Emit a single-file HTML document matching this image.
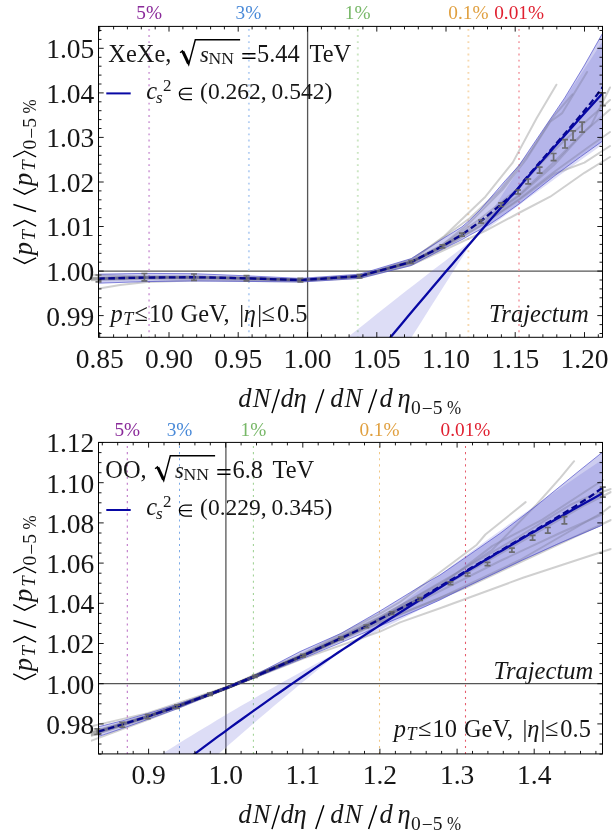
<!DOCTYPE html>
<html><head><meta charset="utf-8"><title>chart</title>
<style>html,body{margin:0;padding:0;background:#fff;}svg{display:block;will-change:transform;}text{font-family:"Liberation Serif",serif;fill:#161616;}</style></head><body>
<svg width="615" height="838" viewBox="0 0 615 838">
<rect width="615" height="838" fill="#fff"/>
<defs><clipPath id="ct"><rect x="98.5" y="26.4" width="504.0" height="310.9"/></clipPath>
<clipPath id="ctw"><rect x="90.8" y="26.4" width="520.7" height="310.9"/></clipPath>
<clipPath id="cbw"><rect x="90.8" y="442.4" width="520.7" height="311.5"/></clipPath>
<clipPath id="cb"><rect x="98.5" y="442.4" width="504.0" height="311.5"/></clipPath></defs>
<g clip-path="url(#ct)">
<line x1="98.5" y1="271.1" x2="602.5" y2="271.1" stroke="#565656" stroke-width="1.3"/>
<line x1="307.6" y1="26.4" x2="307.6" y2="337.3" stroke="#565656" stroke-width="1.3"/>
<line x1="149.1" y1="338.3" x2="149.1" y2="26.4" stroke="#cc96d4" stroke-opacity="0.8" stroke-width="1.9" stroke-dasharray="1.9,4.25"/>
<line x1="248.9" y1="338.3" x2="248.9" y2="26.4" stroke="#a6c6f0" stroke-opacity="0.8" stroke-width="1.9" stroke-dasharray="1.9,4.25"/>
<line x1="357.8" y1="338.3" x2="357.8" y2="26.4" stroke="#bfe0b4" stroke-opacity="0.8" stroke-width="1.9" stroke-dasharray="1.9,4.25"/>
<line x1="468.4" y1="338.3" x2="468.4" y2="26.4" stroke="#f5d09c" stroke-opacity="0.8" stroke-width="1.9" stroke-dasharray="1.9,4.25"/>
<line x1="519.0" y1="338.3" x2="519.0" y2="26.4" stroke="#f29aa2" stroke-opacity="0.8" stroke-width="1.9" stroke-dasharray="1.9,4.25"/>
<polygon points="96.5,554.1 102.8,548.3 109.2,542.4 115.5,536.6 121.9,530.8 128.2,525.0 134.6,519.2 140.9,513.5 147.2,507.7 153.6,502.0 160.0,496.3 166.3,490.7 172.7,485.0 179.0,479.4 185.4,473.8 191.7,468.3 198.1,462.7 204.4,457.2 210.8,451.7 217.1,446.2 223.5,440.7 229.8,435.2 236.2,429.8 242.5,424.4 248.9,419.0 255.2,413.6 261.6,408.2 267.9,402.9 274.2,397.6 280.6,392.3 287.0,387.0 293.3,381.7 299.7,376.5 306.0,371.2 312.4,366.0 318.7,360.8 325.1,355.7 331.4,350.5 337.8,345.3 344.1,340.2 350.5,335.1 356.8,330.0 363.2,324.9 369.5,319.9 375.9,314.8 382.2,309.8 388.6,304.8 394.9,299.8 401.2,294.8 407.6,289.8 413.9,284.9 420.3,280.0 426.7,275.0 433.0,270.1 439.4,265.3 445.7,260.4 452.1,255.5 458.4,250.7 464.8,245.8 471.1,241.0 477.5,233.4 483.8,223.5 490.2,213.6 496.5,203.7 502.9,193.8 509.2,184.0 515.6,174.2 521.9,164.4 528.2,154.6 534.6,144.8 541.0,135.1 547.3,125.4 553.7,115.6 560.0,105.9 566.4,96.3 572.7,86.6 579.1,77.0 585.4,67.3 591.8,57.7 598.1,48.1 604.5,38.5 604.5,143.1 598.1,147.7 591.8,152.2 585.4,156.8 579.1,161.3 572.7,165.9 566.4,170.5 560.0,175.1 553.7,179.7 547.3,184.4 541.0,189.0 534.6,193.7 528.2,198.3 521.9,203.0 515.6,207.7 509.2,212.4 502.9,217.2 496.5,221.9 490.2,226.7 483.8,231.4 477.5,236.2 471.1,243.3 464.8,253.3 458.4,263.2 452.1,273.2 445.7,283.2 439.4,293.2 433.0,303.3 426.7,313.3 420.3,323.4 413.9,333.5 407.6,343.7 401.2,353.8 394.9,364.0 388.6,374.1 382.2,384.3 375.9,394.6 369.5,404.8 363.2,415.1 356.8,425.3 350.5,435.6 344.1,446.0 337.8,456.3 331.4,466.7 325.1,477.1 318.7,487.5 312.4,497.9 306.0,508.4 299.7,518.8 293.3,529.3 287.0,539.9 280.6,550.4 274.2,561.0 267.9,571.6 261.6,582.2 255.2,592.8 248.9,603.5 242.5,614.1 236.2,624.8 229.8,635.6 223.5,646.3 217.1,657.1 210.8,667.9 204.4,678.7 198.1,689.6 191.7,700.4 185.4,711.3 179.0,722.3 172.7,733.2 166.3,744.2 160.0,755.2 153.6,766.2 147.2,777.2 140.9,788.3 134.6,799.4 128.2,810.6 121.9,821.7 115.5,832.9 109.2,844.1 102.8,855.3 96.5,866.6" fill="rgb(100,100,215)" fill-opacity="0.22"/>
</g><g clip-path="url(#ctw)">
<polyline points="91.5,278.2 98.2,278.0 144.5,276.7 194.0,276.4 246.5,277.6 300.4,279.6 359.5,275.6 411.2,260.5 444.4,236.0 485.4,196.7 512.7,162.6 536.6,118.2 556.4,84.7" fill="none" stroke="rgb(150,150,150)" stroke-opacity="0.45" stroke-width="2" stroke-linejoin="round" stroke-linecap="round"/>
<polyline points="91.5,279.1 98.2,279.0 144.5,278.2 194.0,277.9 246.5,279.0 300.4,280.6 359.5,276.7 411.2,262.8 442.0,245.0 468.3,224.0 502.4,189.9 526.3,159.2 550.2,121.6 562.2,113.1 587.1,72.1" fill="none" stroke="rgb(150,150,150)" stroke-opacity="0.45" stroke-width="2" stroke-linejoin="round" stroke-linecap="round"/>
<polyline points="99.2,288.4 120.0,285.0 147.0,282.1 200.0,280.3 250.0,281.0 300.0,281.5 360.0,278.0 411.0,265.0 442.0,251.0 485.4,230.9 518.8,213.0 550.2,196.7 584.4,172.8 610.0,157.0" fill="none" stroke="rgb(150,150,150)" stroke-opacity="0.45" stroke-width="2" stroke-linejoin="round" stroke-linecap="round"/>
<polyline points="91.5,274.8 98.2,275.0 144.5,276.4 194.0,276.6 246.5,277.8 300.4,279.7 359.5,275.7 411.2,262.0 442.0,247.0 480.0,224.0 519.0,196.0 554.0,165.0 584.4,131.8 610.0,109.6" fill="none" stroke="rgb(150,150,150)" stroke-opacity="0.45" stroke-width="2" stroke-linejoin="round" stroke-linecap="round"/>
<polyline points="91.5,279.7 98.2,279.5 144.5,277.8 194.0,277.7 246.5,278.7 300.4,280.3 359.5,276.4 411.2,259.5 440.0,240.0 470.0,218.0 500.0,190.0 530.0,152.0 552.0,118.2 572.4,94.3" fill="none" stroke="rgb(150,150,150)" stroke-opacity="0.45" stroke-width="2" stroke-linejoin="round" stroke-linecap="round"/>
<polyline points="91.5,277.7 98.2,277.6 144.5,277.2 194.0,277.2 246.5,279.2 300.4,280.1 359.5,276.0 411.2,263.0 442.0,248.0 480.0,226.0 519.0,200.0 554.0,174.0 584.4,162.6 610.0,146.0" fill="none" stroke="rgb(150,150,150)" stroke-opacity="0.45" stroke-width="2" stroke-linejoin="round" stroke-linecap="round"/>
<polyline points="91.5,278.7 98.2,278.6 144.5,277.6 194.0,277.5 246.5,278.3 300.4,280.1 359.5,276.4 411.2,262.5 442.0,246.0 480.0,222.0 519.0,195.0 554.0,162.0 591.2,125.0 610.0,87.5" fill="none" stroke="rgb(150,150,150)" stroke-opacity="0.45" stroke-width="2" stroke-linejoin="round" stroke-linecap="round"/>
<polyline points="91.5,280.3 98.2,280.1 144.5,278.9 194.0,278.4 246.5,279.4 300.4,280.9 359.5,277.1 411.2,264.0 442.0,249.0 480.0,226.5 519.0,199.0 554.0,172.0 590.0,146.0 610.0,132.0" fill="none" stroke="rgb(150,150,150)" stroke-opacity="0.45" stroke-width="2" stroke-linejoin="round" stroke-linecap="round"/>
<polyline points="91.5,278.4 98.2,278.2 144.5,277.1 194.0,276.8 246.5,278.0 300.4,279.9 359.5,276.0 411.2,261.0 442.0,245.0 480.0,219.0 519.0,188.0 540.0,164.0 565.0,140.0 610.0,100.0" fill="none" stroke="rgb(150,150,150)" stroke-opacity="0.45" stroke-width="2" stroke-linejoin="round" stroke-linecap="round"/>
</g><g clip-path="url(#ct)">
<polyline points="98.2,278.6 144.5,277.6 194.0,277.2 246.5,278.3 300.4,280.1 359.5,276.2 411.2,262.0 442.4,246.3 462.0,234.6" fill="none" stroke="rgb(50,50,55)" stroke-opacity="0.35" stroke-width="2.6" stroke-linejoin="round"/>
<polyline points="246.5,278.3 300.4,280.1 359.5,276.2 411.2,262.0 430.0,252.5" fill="none" stroke="rgb(50,50,55)" stroke-opacity="0.45" stroke-width="2.4" stroke-linejoin="round"/>
<polygon points="98.2,274.2 144.5,273.4 194.0,273.7 246.5,275.8 300.4,278.4 359.5,274.2 411.2,258.6 440.0,240.5 462.0,226.8 469.3,220.5 480.0,210.0 505.0,180.9 519.0,165.5 529.4,150.0 547.0,124.0 564.6,98.0 584.0,66.0 603.2,32.2 603.2,140.6 580.5,156.8 564.6,168.4 553.7,176.5 540.0,187.3 519.0,204.0 500.0,217.4 488.5,225.0 469.3,235.4 462.0,239.6 440.0,250.4 411.2,265.5 359.5,278.4 300.4,282.0 246.5,281.4 194.0,281.0 144.5,281.6 98.2,283.2" fill="rgb(88,88,205)" fill-opacity="0.30" stroke="rgb(70,70,200)" stroke-opacity="0.85" stroke-width="0.75" stroke-linejoin="round"/>
<polyline points="98.2,278.6 144.5,277.6 194.0,277.2 246.5,278.3 300.4,280.1 359.5,276.2 411.2,262.0 442.4,246.3 462.0,234.6 481.0,221.0 501.0,204.3 516.0,191.8 524.0,180.5 540.0,162.1 560.0,139.2 579.0,117.2 592.0,101.5 603.0,86.8" fill="none" stroke="#06068c" stroke-width="2.3" stroke-dasharray="6.6,3.5"/>
<polyline points="96.5,713.4 102.8,704.7 109.2,696.1 115.5,687.4 121.9,678.8 128.2,670.3 134.6,661.7 140.9,653.2 147.2,644.7 153.6,636.2 160.0,627.8 166.3,619.4 172.7,611.0 179.0,602.6 185.4,594.3 191.7,586.0 198.1,577.7 204.4,569.4 210.8,561.2 217.1,553.0 223.5,544.8 229.8,536.6 236.2,528.5 242.5,520.3 248.9,512.2 255.2,504.2 261.6,496.1 267.9,488.1 274.2,480.1 280.6,472.1 287.0,464.1 293.3,456.2 299.7,448.3 306.0,440.4 312.4,432.5 318.7,424.6 325.1,416.8 331.4,409.0 337.8,401.2 344.1,393.4 350.5,385.7 356.8,377.9 363.2,370.2 369.5,362.5 375.9,354.9 382.2,347.2 388.6,339.6 394.9,332.0 401.2,324.4 407.6,316.8 413.9,309.3 420.3,301.7 426.7,294.2 433.0,286.7 439.4,279.3 445.7,271.8 452.1,264.4 458.4,257.0 464.8,249.6 471.1,242.2 477.5,234.8 483.8,227.5 490.2,220.1 496.5,212.8 502.9,205.5 509.2,198.3 515.6,191.0 521.9,183.8 528.2,176.5 534.6,169.3 541.0,162.1 547.3,155.0 553.7,147.8 560.0,140.7 566.4,133.5 572.7,126.4 579.1,119.3 585.4,112.3 591.8,105.2 598.1,98.2 604.5,91.1" fill="none" stroke="#0808a4" stroke-width="2.3"/>
</g><g clip-path="url(#ctw)">
<path d="M98.5 275.0 V281.8 M95.5 275.0 H101.5 M95.5 281.8 H101.5" stroke="#666" stroke-width="1.7" stroke-opacity="0.92" fill="none"/>
<path d="M144.4 273.5 V280.9 M141.4 273.5 H147.4 M141.4 280.9 H147.4" stroke="#666" stroke-width="1.7" stroke-opacity="0.92" fill="none"/>
<path d="M194.0 274.0 V280.4 M191.0 274.0 H197.0 M191.0 280.4 H197.0" stroke="#666" stroke-width="1.7" stroke-opacity="0.92" fill="none"/>
<path d="M246.5 275.7 V280.9 M243.5 275.7 H249.5 M243.5 280.9 H249.5" stroke="#666" stroke-width="1.7" stroke-opacity="0.92" fill="none"/>
<path d="M300.4 278.3 V281.9 M297.4 278.3 H303.4 M297.4 281.9 H303.4" stroke="#666" stroke-width="1.7" stroke-opacity="0.92" fill="none"/>
<path d="M359.5 274.6 V277.8 M356.5 274.6 H362.5 M356.5 277.8 H362.5" stroke="#666" stroke-width="1.7" stroke-opacity="0.92" fill="none"/>
<path d="M411.2 260.6 V263.4 M408.2 260.6 H414.2 M408.2 263.4 H414.2" stroke="#666" stroke-width="1.7" stroke-opacity="0.92" fill="none"/>
<path d="M442.4 244.8 V247.8 M439.4 244.8 H445.4 M439.4 247.8 H445.4" stroke="#666" stroke-width="1.7" stroke-opacity="0.92" fill="none"/>
<path d="M462.0 233.1 V236.1 M459.0 233.1 H465.0 M459.0 236.1 H465.0" stroke="#666" stroke-width="1.7" stroke-opacity="0.92" fill="none"/>
<path d="M481.0 220.0 V223.2 M478.0 220.0 H484.0 M478.0 223.2 H484.0" stroke="#666" stroke-width="1.7" stroke-opacity="0.92" fill="none"/>
<path d="M501.1 202.9 V206.5 M498.1 202.9 H504.1 M498.1 206.5 H504.1" stroke="#666" stroke-width="1.7" stroke-opacity="0.92" fill="none"/>
<path d="M518.0 190.0 V194.0 M515.0 190.0 H521.0 M515.0 194.0 H521.0" stroke="#666" stroke-width="1.7" stroke-opacity="0.92" fill="none"/>
<path d="M528.2 179.0 V183.8 M525.2 179.0 H531.2 M525.2 183.8 H531.2" stroke="#666" stroke-width="1.7" stroke-opacity="0.92" fill="none"/>
<path d="M539.6 167.2 V173.2 M536.6 167.2 H542.6 M536.6 173.2 H542.6" stroke="#666" stroke-width="1.7" stroke-opacity="0.92" fill="none"/>
<path d="M553.6 153.5 V160.7 M550.6 153.5 H556.6 M550.6 160.7 H556.6" stroke="#666" stroke-width="1.7" stroke-opacity="0.92" fill="none"/>
<path d="M565.0 139.6 V148.0 M562.0 139.6 H568.0 M562.0 148.0 H568.0" stroke="#666" stroke-width="1.7" stroke-opacity="0.92" fill="none"/>
<path d="M573.0 130.9 V140.1 M570.0 130.9 H576.0 M570.0 140.1 H576.0" stroke="#666" stroke-width="1.7" stroke-opacity="0.92" fill="none"/>
<path d="M582.1 122.1 V132.1 M579.1 122.1 H585.1 M579.1 132.1 H585.1" stroke="#666" stroke-width="1.7" stroke-opacity="0.92" fill="none"/>
<path d="M602.8 92.8 V105.6 M599.8 92.8 H605.8 M599.8 105.6 H605.8" stroke="#666" stroke-width="1.7" stroke-opacity="0.92" fill="none"/>
</g>
<rect x="98.5" y="26.4" width="504.0" height="310.9" fill="none" stroke="#000" stroke-width="1.0"/>
<path d="M99.7 337.3 v-5.2 M99.7 26.4 v5.2 M113.6 337.3 v-3.0 M113.6 26.4 v3.0 M127.4 337.3 v-3.0 M127.4 26.4 v3.0 M141.3 337.3 v-3.0 M141.3 26.4 v3.0 M155.2 337.3 v-3.0 M155.2 26.4 v3.0 M169.0 337.3 v-5.2 M169.0 26.4 v5.2 M182.9 337.3 v-3.0 M182.9 26.4 v3.0 M196.7 337.3 v-3.0 M196.7 26.4 v3.0 M210.6 337.3 v-3.0 M210.6 26.4 v3.0 M224.4 337.3 v-3.0 M224.4 26.4 v3.0 M238.2 337.3 v-5.2 M238.2 26.4 v5.2 M252.1 337.3 v-3.0 M252.1 26.4 v3.0 M265.9 337.3 v-3.0 M265.9 26.4 v3.0 M279.8 337.3 v-3.0 M279.8 26.4 v3.0 M293.6 337.3 v-3.0 M293.6 26.4 v3.0 M307.5 337.3 v-5.2 M307.5 26.4 v5.2 M321.4 337.3 v-3.0 M321.4 26.4 v3.0 M335.2 337.3 v-3.0 M335.2 26.4 v3.0 M349.1 337.3 v-3.0 M349.1 26.4 v3.0 M362.9 337.3 v-3.0 M362.9 26.4 v3.0 M376.8 337.3 v-5.2 M376.8 26.4 v5.2 M390.6 337.3 v-3.0 M390.6 26.4 v3.0 M404.5 337.3 v-3.0 M404.5 26.4 v3.0 M418.3 337.3 v-3.0 M418.3 26.4 v3.0 M432.2 337.3 v-3.0 M432.2 26.4 v3.0 M446.0 337.3 v-5.2 M446.0 26.4 v5.2 M459.9 337.3 v-3.0 M459.9 26.4 v3.0 M473.7 337.3 v-3.0 M473.7 26.4 v3.0 M487.5 337.3 v-3.0 M487.5 26.4 v3.0 M501.4 337.3 v-3.0 M501.4 26.4 v3.0 M515.2 337.3 v-5.2 M515.2 26.4 v5.2 M529.1 337.3 v-3.0 M529.1 26.4 v3.0 M542.9 337.3 v-3.0 M542.9 26.4 v3.0 M556.8 337.3 v-3.0 M556.8 26.4 v3.0 M570.6 337.3 v-3.0 M570.6 26.4 v3.0 M584.5 337.3 v-5.2 M584.5 26.4 v5.2 M598.3 337.3 v-3.0 M598.3 26.4 v3.0 M98.5 333.5 h3.0 M602.5 333.5 h-3.0 M98.5 324.6 h3.0 M602.5 324.6 h-3.0 M98.5 315.6 h5.2 M602.5 315.6 h-5.2 M98.5 306.7 h3.0 M602.5 306.7 h-3.0 M98.5 297.8 h3.0 M602.5 297.8 h-3.0 M98.5 288.9 h3.0 M602.5 288.9 h-3.0 M98.5 280.0 h3.0 M602.5 280.0 h-3.0 M98.5 271.1 h5.2 M602.5 271.1 h-5.2 M98.5 262.2 h3.0 M602.5 262.2 h-3.0 M98.5 253.3 h3.0 M602.5 253.3 h-3.0 M98.5 244.4 h3.0 M602.5 244.4 h-3.0 M98.5 235.5 h3.0 M602.5 235.5 h-3.0 M98.5 226.5 h5.2 M602.5 226.5 h-5.2 M98.5 217.6 h3.0 M602.5 217.6 h-3.0 M98.5 208.7 h3.0 M602.5 208.7 h-3.0 M98.5 199.8 h3.0 M602.5 199.8 h-3.0 M98.5 190.9 h3.0 M602.5 190.9 h-3.0 M98.5 182.0 h5.2 M602.5 182.0 h-5.2 M98.5 173.1 h3.0 M602.5 173.1 h-3.0 M98.5 164.2 h3.0 M602.5 164.2 h-3.0 M98.5 155.3 h3.0 M602.5 155.3 h-3.0 M98.5 146.4 h3.0 M602.5 146.4 h-3.0 M98.5 137.4 h5.2 M602.5 137.4 h-5.2 M98.5 128.5 h3.0 M602.5 128.5 h-3.0 M98.5 119.6 h3.0 M602.5 119.6 h-3.0 M98.5 110.7 h3.0 M602.5 110.7 h-3.0 M98.5 101.8 h3.0 M602.5 101.8 h-3.0 M98.5 92.9 h5.2 M602.5 92.9 h-5.2 M98.5 84.0 h3.0 M602.5 84.0 h-3.0 M98.5 75.1 h3.0 M602.5 75.1 h-3.0 M98.5 66.2 h3.0 M602.5 66.2 h-3.0 M98.5 57.3 h3.0 M602.5 57.3 h-3.0 M98.5 48.3 h5.2 M602.5 48.3 h-5.2 M98.5 39.4 h3.0 M602.5 39.4 h-3.0 M98.5 30.5 h3.0 M602.5 30.5 h-3.0" stroke="#000" stroke-width="0.9" fill="none"/>
<text x="94.3" y="325.5" font-size="27.5" text-anchor="end">0.99</text>
<text x="94.3" y="280.9" font-size="27.5" text-anchor="end">1.00</text>
<text x="94.3" y="236.3" font-size="27.5" text-anchor="end">1.01</text>
<text x="94.3" y="191.8" font-size="27.5" text-anchor="end">1.02</text>
<text x="94.3" y="147.2" font-size="27.5" text-anchor="end">1.03</text>
<text x="94.3" y="102.7" font-size="27.5" text-anchor="end">1.04</text>
<text x="94.3" y="58.1" font-size="27.5" text-anchor="end">1.05</text>
<text x="99.7" y="367.6" font-size="27.5" text-anchor="middle">0.85</text>
<text x="169.0" y="367.6" font-size="27.5" text-anchor="middle">0.90</text>
<text x="238.2" y="367.6" font-size="27.5" text-anchor="middle">0.95</text>
<text x="307.5" y="367.6" font-size="27.5" text-anchor="middle">1.00</text>
<text x="376.8" y="367.6" font-size="27.5" text-anchor="middle">1.05</text>
<text x="446.0" y="367.6" font-size="27.5" text-anchor="middle">1.10</text>
<text x="515.2" y="367.6" font-size="27.5" text-anchor="middle">1.15</text>
<text x="584.5" y="367.6" font-size="27.5" text-anchor="middle">1.20</text>
<text x="149.1" y="19.4" font-size="19.3" text-anchor="middle" style="fill:#8a2a9a">5%</text>
<text x="248.4" y="19.4" font-size="19.3" text-anchor="middle" style="fill:#4a8ad8">3%</text>
<text x="357.6" y="19.4" font-size="19.3" text-anchor="middle" style="fill:#78b868">1%</text>
<text x="468.4" y="19.4" font-size="19.3" text-anchor="middle" style="fill:#e0a040">0.1%</text>
<text x="519.1" y="19.4" font-size="19.3" text-anchor="middle" style="fill:#e02030">0.01%</text>
<g clip-path="url(#cb)">
<line x1="98.5" y1="683.7" x2="602.5" y2="683.7" stroke="#565656" stroke-width="1.3"/>
<line x1="225.9" y1="442.4" x2="225.9" y2="753.9" stroke="#565656" stroke-width="1.3"/>
<line x1="127.3" y1="754.1" x2="127.3" y2="442.4" stroke="#b05abd" stroke-opacity="0.88" stroke-width="1.05" stroke-dasharray="2.1,4.02"/>
<line x1="179.5" y1="754.1" x2="179.5" y2="442.4" stroke="#6a9ee2" stroke-opacity="0.88" stroke-width="1.05" stroke-dasharray="2.1,4.02"/>
<line x1="253.4" y1="754.1" x2="253.4" y2="442.4" stroke="#90ca82" stroke-opacity="0.88" stroke-width="1.05" stroke-dasharray="2.1,4.02"/>
<line x1="379.5" y1="754.1" x2="379.5" y2="442.4" stroke="#efbf74" stroke-opacity="0.88" stroke-width="1.05" stroke-dasharray="2.1,4.02"/>
<line x1="465.5" y1="754.1" x2="465.5" y2="442.4" stroke="#e24656" stroke-opacity="0.88" stroke-width="1.05" stroke-dasharray="2.1,4.02"/>
<polygon points="96.5,797.0 102.8,792.7 109.2,788.4 115.5,784.1 121.9,779.9 128.2,775.7 134.6,771.5 140.9,767.4 147.2,763.3 153.6,759.3 160.0,755.2 166.3,751.2 172.7,747.2 179.0,743.3 185.4,739.3 191.7,735.4 198.1,731.5 204.4,727.7 210.8,723.9 217.1,720.1 223.5,716.3 229.8,712.5 236.2,708.8 242.5,705.1 248.9,701.4 255.2,697.7 261.6,694.1 267.9,690.5 274.2,686.9 280.6,683.3 287.0,679.8 293.3,676.2 299.7,672.7 306.0,669.2 312.4,665.8 318.7,662.3 325.1,658.9 331.4,655.5 337.8,652.1 344.1,648.6 350.5,643.5 356.8,638.5 363.2,633.5 369.5,628.5 375.9,623.5 382.2,618.6 388.6,613.7 394.9,608.8 401.2,603.9 407.6,599.0 413.9,594.2 420.3,589.4 426.7,584.6 433.0,579.8 439.4,575.1 445.7,570.4 452.1,565.6 458.4,561.0 464.8,556.3 471.1,551.6 477.5,547.0 483.8,542.4 490.2,537.8 496.5,533.2 502.9,528.7 509.2,524.1 515.6,519.6 521.9,515.1 528.2,510.6 534.6,506.1 541.0,501.7 547.3,497.3 553.7,492.8 560.0,488.4 566.4,484.1 572.7,479.7 579.1,475.3 585.4,471.0 591.8,466.7 598.1,462.4 604.5,458.1 604.5,524.2 598.1,527.0 591.8,529.7 585.4,532.5 579.1,535.3 572.7,538.1 566.4,540.9 560.0,543.8 553.7,546.6 547.3,549.5 541.0,552.4 534.6,555.3 528.2,558.2 521.9,561.1 515.6,564.0 509.2,566.9 502.9,569.9 496.5,572.9 490.2,575.8 483.8,578.8 477.5,581.8 471.1,584.9 464.8,587.9 458.4,591.0 452.1,594.0 445.7,597.1 439.4,600.2 433.0,603.3 426.7,606.5 420.3,609.6 413.9,612.8 407.6,616.0 401.2,619.2 394.9,622.4 388.6,625.6 382.2,628.9 375.9,632.1 369.5,635.4 363.2,638.7 356.8,642.0 350.5,645.4 344.1,648.7 337.8,653.6 331.4,658.7 325.1,663.9 318.7,669.0 312.4,674.2 306.0,679.4 299.7,684.6 293.3,689.9 287.0,695.2 280.6,700.5 274.2,705.8 267.9,711.2 261.6,716.6 255.2,722.0 248.9,727.4 242.5,732.9 236.2,738.4 229.8,743.9 223.5,749.5 217.1,755.1 210.8,760.7 204.4,766.4 198.1,772.1 191.7,777.8 185.4,783.5 179.0,789.3 172.7,795.2 166.3,801.0 160.0,806.9 153.6,812.8 147.2,818.8 140.9,824.8 134.6,830.8 128.2,836.9 121.9,843.0 115.5,849.1 109.2,855.3 102.8,861.5 96.5,867.8" fill="rgb(100,100,215)" fill-opacity="0.22"/>
</g><g clip-path="url(#cbw)">
<polyline points="91.5,726.2 98.2,724.6 147.6,713.1 226.0,687.3 303.0,653.6 380.0,613.6 400.0,602.0 444.4,569.0 476.8,544.7 485.4,534.5 525.6,502.1" fill="none" stroke="rgb(150,150,150)" stroke-opacity="0.45" stroke-width="2" stroke-linejoin="round" stroke-linecap="round"/>
<polyline points="91.5,732.0 98.2,730.0 147.6,715.5 226.0,687.7 303.0,654.6 380.0,616.6 440.0,584.0 492.0,550.0 536.6,504.5 560.5,477.6 574.1,461.2" fill="none" stroke="rgb(150,150,150)" stroke-opacity="0.45" stroke-width="2" stroke-linejoin="round" stroke-linecap="round"/>
<polyline points="91.5,740.6 98.2,738.1 147.6,719.9 226.0,689.1 303.0,658.6 380.0,631.6 400.0,622.4 440.0,608.2 523.0,577.8 603.0,551.5 611.0,549.0" fill="none" stroke="rgb(150,150,150)" stroke-opacity="0.45" stroke-width="2" stroke-linejoin="round" stroke-linecap="round"/>
<polyline points="91.5,735.7 98.2,733.6 147.6,717.9 226.0,688.6 303.0,657.1 380.0,622.6 440.0,598.0 520.0,560.0 603.0,512.0 610.0,506.6" fill="none" stroke="rgb(150,150,150)" stroke-opacity="0.45" stroke-width="2" stroke-linejoin="round" stroke-linecap="round"/>
<polyline points="91.5,732.8 98.2,730.8 147.6,716.0 226.0,687.9 303.0,655.1 380.0,618.1 440.0,586.0 492.5,545.9 542.0,519.8 603.0,480.0" fill="none" stroke="rgb(150,150,150)" stroke-opacity="0.45" stroke-width="2" stroke-linejoin="round" stroke-linecap="round"/>
<polyline points="91.5,734.5 98.2,732.4 147.6,717.1 226.0,688.3 303.0,656.2 380.0,620.8 440.0,591.0 500.0,561.0 560.0,533.0 603.0,514.0" fill="none" stroke="rgb(150,150,150)" stroke-opacity="0.45" stroke-width="2" stroke-linejoin="round" stroke-linecap="round"/>
<polyline points="91.5,733.6 98.2,731.6 147.6,716.5 226.0,688.1 303.0,655.6 380.0,619.6 465.0,574.0 540.0,531.0 585.0,505.0 611.0,492.0" fill="none" stroke="rgb(150,150,150)" stroke-opacity="0.45" stroke-width="2" stroke-linejoin="round" stroke-linecap="round"/>
<polyline points="91.5,732.4 98.2,730.4 147.6,715.7 226.0,687.8 303.0,654.8 380.0,617.4 465.0,568.0 520.0,536.0 570.0,505.0 590.0,496.0 611.0,489.0" fill="none" stroke="rgb(150,150,150)" stroke-opacity="0.45" stroke-width="2" stroke-linejoin="round" stroke-linecap="round"/>
<polyline points="91.5,735.3 98.2,733.2 147.6,717.6 226.0,688.5 303.0,656.7 380.0,622.0 465.0,588.0 540.0,553.0 611.0,520.0" fill="none" stroke="rgb(150,150,150)" stroke-opacity="0.45" stroke-width="2" stroke-linejoin="round" stroke-linecap="round"/>
</g><g clip-path="url(#cb)">
<polyline points="98.2,731.6 122.3,724.5 147.6,716.5 177.0,706.6 210.0,694.2 226.0,688.1 254.8,676.4 303.0,655.6 341.0,638.2 366.3,626.3 391.7,613.1 420.0,598.5" fill="none" stroke="rgb(50,50,55)" stroke-opacity="0.40" stroke-width="2.8" stroke-linejoin="round"/>
<polyline points="147.6,716.5 177.0,706.6 210.0,694.2 226.0,688.1 254.8,676.4 303.0,655.6 341.0,638.2" fill="none" stroke="rgb(50,50,55)" stroke-opacity="0.60" stroke-width="2.6" stroke-linejoin="round"/>
<polyline points="177.0,706.6 210.0,694.2 226.0,688.1 254.8,676.4 303.0,655.6" fill="none" stroke="rgb(50,50,55)" stroke-opacity="0.70" stroke-width="3.0" stroke-linejoin="round"/>
<polyline points="200.0,697.9 226.0,688.1 254.8,676.4 285.0,663.4" fill="none" stroke="rgb(50,50,55)" stroke-opacity="0.60" stroke-width="3.2" stroke-linejoin="round"/>
<polygon points="98.2,726.8 122.3,720.8 147.6,713.6 177.0,704.4 210.0,693.2 226.0,687.3 254.8,675.2 300.0,651.6 341.0,633.4 380.0,611.0 420.0,586.5 440.0,575.0 464.9,557.9 500.0,533.5 535.0,506.8 580.2,470.0 603.2,451.6 603.2,524.8 560.0,543.0 522.9,559.8 464.9,587.5 440.0,599.9 420.0,608.8 380.0,626.0 341.0,642.6 300.0,659.6 254.8,677.6 226.0,688.9 210.0,695.2 177.0,708.8 147.6,719.4 122.3,728.4 98.2,736.6" fill="rgb(88,88,205)" fill-opacity="0.30" stroke="rgb(70,70,200)" stroke-opacity="0.85" stroke-width="0.75" stroke-linejoin="round"/>
<polyline points="98.2,731.6 122.3,724.5 147.6,716.5 177.0,706.6 210.0,694.2 226.0,688.1 254.8,676.4 303.0,655.6 341.0,638.2 366.3,626.3 391.7,613.1 420.0,598.5 440.0,586.5 470.0,568.6 520.0,539.1 556.0,518.0 575.0,506.4 590.0,496.8 603.0,487.4" fill="none" stroke="#06068c" stroke-width="2.3" stroke-dasharray="6.6,3.5"/>
<polyline points="96.5,831.9 102.8,826.6 109.2,821.3 115.5,816.1 121.9,810.9 128.2,805.8 134.6,800.7 140.9,795.6 147.2,790.6 153.6,785.6 160.0,780.6 166.3,775.7 172.7,770.8 179.0,765.9 185.4,761.0 191.7,756.2 198.1,751.4 204.4,746.7 210.8,741.9 217.1,737.2 223.5,732.6 229.8,727.9 236.2,723.3 242.5,718.7 248.9,714.1 255.2,709.6 261.6,705.1 267.9,700.6 274.2,696.1 280.6,691.7 287.0,687.3 293.3,682.9 299.7,678.5 306.0,674.2 312.4,669.9 318.7,665.6 325.1,661.3 331.4,657.1 337.8,652.8 344.1,648.6 350.5,644.5 356.8,640.3 363.2,636.1 369.5,632.0 375.9,627.9 382.2,623.8 388.6,619.8 394.9,615.7 401.2,611.7 407.6,607.7 413.9,603.7 420.3,599.8 426.7,595.8 433.0,591.9 439.4,588.0 445.7,584.1 452.1,580.2 458.4,576.4 464.8,572.5 471.1,568.7 477.5,564.9 483.8,561.1 490.2,557.4 496.5,553.6 502.9,549.9 509.2,546.2 515.6,542.4 521.9,538.8 528.2,535.1 534.6,531.4 541.0,527.8 547.3,524.2 553.7,520.6 560.0,517.0 566.4,513.4 572.7,509.8 579.1,506.3 585.4,502.7 591.8,499.2 598.1,495.7 604.5,492.2" fill="none" stroke="#0808a4" stroke-width="2.3"/>
</g><g clip-path="url(#cbw)">
<path d="M97.3 728.9 V734.5 M94.3 728.9 H100.3 M94.3 734.5 H100.3" stroke="#666" stroke-width="1.7" stroke-opacity="0.92" fill="none"/>
<path d="M122.3 722.3 V727.1 M119.3 722.3 H125.3 M119.3 727.1 H125.3" stroke="#666" stroke-width="1.7" stroke-opacity="0.92" fill="none"/>
<path d="M147.8 714.7 V718.7 M144.8 714.7 H150.8 M144.8 718.7 H150.8" stroke="#666" stroke-width="1.7" stroke-opacity="0.92" fill="none"/>
<path d="M177.0 705.1 V708.3 M174.0 705.1 H180.0 M174.0 708.3 H180.0" stroke="#666" stroke-width="1.7" stroke-opacity="0.92" fill="none"/>
<path d="M210.0 693.0 V695.4 M207.0 693.0 H213.0 M207.0 695.4 H213.0" stroke="#666" stroke-width="1.7" stroke-opacity="0.92" fill="none"/>
<path d="M254.8 675.4 V677.4 M251.8 675.4 H257.8 M251.8 677.4 H257.8" stroke="#666" stroke-width="1.7" stroke-opacity="0.92" fill="none"/>
<path d="M302.9 654.4 V656.8 M299.9 654.4 H305.9 M299.9 656.8 H305.9" stroke="#666" stroke-width="1.7" stroke-opacity="0.92" fill="none"/>
<path d="M341.0 637.1 V639.7 M338.0 637.1 H344.0 M338.0 639.7 H344.0" stroke="#666" stroke-width="1.7" stroke-opacity="0.92" fill="none"/>
<path d="M366.3 625.0 V627.6 M363.3 625.0 H369.3 M363.3 627.6 H369.3" stroke="#666" stroke-width="1.7" stroke-opacity="0.92" fill="none"/>
<path d="M391.7 611.8 V614.4 M388.7 611.8 H394.7 M388.7 614.4 H394.7" stroke="#666" stroke-width="1.7" stroke-opacity="0.92" fill="none"/>
<path d="M420.0 597.7 V600.3 M417.0 597.7 H423.0 M417.0 600.3 H423.0" stroke="#666" stroke-width="1.7" stroke-opacity="0.92" fill="none"/>
<path d="M450.5 581.9 V584.7 M447.5 581.9 H453.5 M447.5 584.7 H453.5" stroke="#666" stroke-width="1.7" stroke-opacity="0.92" fill="none"/>
<path d="M467.6 573.0 V576.0 M464.6 573.0 H470.6 M464.6 576.0 H470.6" stroke="#666" stroke-width="1.7" stroke-opacity="0.92" fill="none"/>
<path d="M487.5 562.3 V565.7 M484.5 562.3 H490.5 M484.5 565.7 H490.5" stroke="#666" stroke-width="1.7" stroke-opacity="0.92" fill="none"/>
<path d="M511.9 548.2 V552.2 M508.9 548.2 H514.9 M508.9 552.2 H514.9" stroke="#666" stroke-width="1.7" stroke-opacity="0.92" fill="none"/>
<path d="M532.6 535.3 V540.1 M529.6 535.3 H535.6 M529.6 540.1 H535.6" stroke="#666" stroke-width="1.7" stroke-opacity="0.92" fill="none"/>
<path d="M547.8 527.5 V533.1 M544.8 527.5 H550.8 M544.8 533.1 H550.8" stroke="#666" stroke-width="1.7" stroke-opacity="0.92" fill="none"/>
<path d="M564.4 516.7 V523.9 M561.4 516.7 H567.4 M561.4 523.9 H567.4" stroke="#666" stroke-width="1.7" stroke-opacity="0.92" fill="none"/>
<path d="M602.8 487.1 V497.1 M599.8 487.1 H605.8 M599.8 497.1 H605.8" stroke="#666" stroke-width="1.7" stroke-opacity="0.92" fill="none"/>
</g>
<rect x="98.5" y="442.4" width="504.0" height="311.5" fill="none" stroke="#000" stroke-width="1.0"/>
<path d="M102.3 753.9 v-3.0 M102.3 442.4 v3.0 M117.7 753.9 v-3.0 M117.7 442.4 v3.0 M133.2 753.9 v-3.0 M133.2 442.4 v3.0 M148.6 753.9 v-5.2 M148.6 442.4 v5.2 M164.0 753.9 v-3.0 M164.0 442.4 v3.0 M179.4 753.9 v-3.0 M179.4 442.4 v3.0 M194.9 753.9 v-3.0 M194.9 442.4 v3.0 M210.3 753.9 v-3.0 M210.3 442.4 v3.0 M225.7 753.9 v-5.2 M225.7 442.4 v5.2 M241.1 753.9 v-3.0 M241.1 442.4 v3.0 M256.5 753.9 v-3.0 M256.5 442.4 v3.0 M272.0 753.9 v-3.0 M272.0 442.4 v3.0 M287.4 753.9 v-3.0 M287.4 442.4 v3.0 M302.8 753.9 v-5.2 M302.8 442.4 v5.2 M318.2 753.9 v-3.0 M318.2 442.4 v3.0 M333.7 753.9 v-3.0 M333.7 442.4 v3.0 M349.1 753.9 v-3.0 M349.1 442.4 v3.0 M364.5 753.9 v-3.0 M364.5 442.4 v3.0 M379.9 753.9 v-5.2 M379.9 442.4 v5.2 M395.4 753.9 v-3.0 M395.4 442.4 v3.0 M410.8 753.9 v-3.0 M410.8 442.4 v3.0 M426.2 753.9 v-3.0 M426.2 442.4 v3.0 M441.6 753.9 v-3.0 M441.6 442.4 v3.0 M457.1 753.9 v-5.2 M457.1 442.4 v5.2 M472.5 753.9 v-3.0 M472.5 442.4 v3.0 M487.9 753.9 v-3.0 M487.9 442.4 v3.0 M503.3 753.9 v-3.0 M503.3 442.4 v3.0 M518.8 753.9 v-3.0 M518.8 442.4 v3.0 M534.2 753.9 v-5.2 M534.2 442.4 v5.2 M549.6 753.9 v-3.0 M549.6 442.4 v3.0 M565.0 753.9 v-3.0 M565.0 442.4 v3.0 M580.5 753.9 v-3.0 M580.5 442.4 v3.0 M595.9 753.9 v-3.0 M595.9 442.4 v3.0 M98.5 754.1 h3.0 M602.5 754.1 h-3.0 M98.5 744.0 h3.0 M602.5 744.0 h-3.0 M98.5 734.0 h3.0 M602.5 734.0 h-3.0 M98.5 723.9 h5.2 M602.5 723.9 h-5.2 M98.5 713.9 h3.0 M602.5 713.9 h-3.0 M98.5 703.8 h3.0 M602.5 703.8 h-3.0 M98.5 693.8 h3.0 M602.5 693.8 h-3.0 M98.5 683.7 h5.2 M602.5 683.7 h-5.2 M98.5 673.6 h3.0 M602.5 673.6 h-3.0 M98.5 663.6 h3.0 M602.5 663.6 h-3.0 M98.5 653.5 h3.0 M602.5 653.5 h-3.0 M98.5 643.5 h5.2 M602.5 643.5 h-5.2 M98.5 633.5 h3.0 M602.5 633.5 h-3.0 M98.5 623.4 h3.0 M602.5 623.4 h-3.0 M98.5 613.4 h3.0 M602.5 613.4 h-3.0 M98.5 603.3 h5.2 M602.5 603.3 h-5.2 M98.5 593.3 h3.0 M602.5 593.3 h-3.0 M98.5 583.2 h3.0 M602.5 583.2 h-3.0 M98.5 573.2 h3.0 M602.5 573.2 h-3.0 M98.5 563.1 h5.2 M602.5 563.1 h-5.2 M98.5 553.1 h3.0 M602.5 553.1 h-3.0 M98.5 543.0 h3.0 M602.5 543.0 h-3.0 M98.5 533.0 h3.0 M602.5 533.0 h-3.0 M98.5 522.9 h5.2 M602.5 522.9 h-5.2 M98.5 512.9 h3.0 M602.5 512.9 h-3.0 M98.5 502.8 h3.0 M602.5 502.8 h-3.0 M98.5 492.8 h3.0 M602.5 492.8 h-3.0 M98.5 482.7 h5.2 M602.5 482.7 h-5.2 M98.5 472.7 h3.0 M602.5 472.7 h-3.0 M98.5 462.6 h3.0 M602.5 462.6 h-3.0 M98.5 452.6 h3.0 M602.5 452.6 h-3.0 M98.5 442.5 h5.2 M602.5 442.5 h-5.2" stroke="#000" stroke-width="0.9" fill="none"/>
<text x="94.3" y="733.7" font-size="27.5" text-anchor="end">0.98</text>
<text x="94.3" y="693.5" font-size="27.5" text-anchor="end">1.00</text>
<text x="94.3" y="653.3" font-size="27.5" text-anchor="end">1.02</text>
<text x="94.3" y="613.1" font-size="27.5" text-anchor="end">1.04</text>
<text x="94.3" y="572.9" font-size="27.5" text-anchor="end">1.06</text>
<text x="94.3" y="532.7" font-size="27.5" text-anchor="end">1.08</text>
<text x="94.3" y="492.5" font-size="27.5" text-anchor="end">1.10</text>
<text x="94.3" y="452.3" font-size="27.5" text-anchor="end">1.12</text>
<text x="148.6" y="783.6" font-size="27.5" text-anchor="middle">0.9</text>
<text x="225.7" y="783.6" font-size="27.5" text-anchor="middle">1.0</text>
<text x="302.8" y="783.6" font-size="27.5" text-anchor="middle">1.1</text>
<text x="379.9" y="783.6" font-size="27.5" text-anchor="middle">1.2</text>
<text x="457.1" y="783.6" font-size="27.5" text-anchor="middle">1.3</text>
<text x="534.2" y="783.6" font-size="27.5" text-anchor="middle">1.4</text>
<text x="127.3" y="435.8" font-size="19.3" text-anchor="middle" style="fill:#8a2a9a">5%</text>
<text x="179.5" y="435.8" font-size="19.3" text-anchor="middle" style="fill:#4a8ad8">3%</text>
<text x="253.4" y="435.8" font-size="19.3" text-anchor="middle" style="fill:#78b868">1%</text>
<text x="379.5" y="435.8" font-size="19.3" text-anchor="middle" style="fill:#e0a040">0.1%</text>
<text x="465.5" y="435.8" font-size="19.3" text-anchor="middle" style="fill:#e02030">0.01%</text>
<text x="108.36" y="61.7" font-size="24.4" text-anchor="start">XeXe,</text>
<path d="M180.1 52.8 l2.3 -1.8 l6.3 13.6 l6.6 -24.9 h44.8" fill="none" stroke="#000" stroke-width="1.45" stroke-linejoin="miter"/>
<path d="M182.8 51.3 l5.7 12.2" fill="none" stroke="#000" stroke-width="3.0"/>
<text x="200.02" y="61.7" font-size="22.6" font-style="italic" text-anchor="start">s</text>
<text x="208.49" y="63.9" font-size="17.6" text-anchor="start">NN</text>
<path d="M242.3 53.7 h13.2 M242.3 58.3 h13.2" stroke="#000" stroke-width="1.5" fill="none"/>
<text x="257.08" y="61.7" font-size="24.4" text-anchor="start">5.44</text>
<text x="309.46" y="61.7" font-size="24.4" text-anchor="start">TeV</text>
<text x="105.30" y="477.7" font-size="24.4" text-anchor="start">OO,</text>
<path d="M155.1 468.8 l2.3 -1.8 l6.3 13.6 l6.6 -24.9 h44.8" fill="none" stroke="#000" stroke-width="1.45" stroke-linejoin="miter"/>
<path d="M157.8 467.3 l5.7 12.2" fill="none" stroke="#000" stroke-width="3.0"/>
<text x="175.02" y="477.7" font-size="22.6" font-style="italic" text-anchor="start">s</text>
<text x="183.49" y="479.9" font-size="17.6" text-anchor="start">NN</text>
<path d="M217.3 469.7 h13.2 M217.3 474.3 h13.2" stroke="#000" stroke-width="1.5" fill="none"/>
<text x="232.45" y="477.7" font-size="24.4" text-anchor="start">6.8</text>
<text x="272.46" y="477.7" font-size="24.4" text-anchor="start">TeV</text>
<line x1="106.3" y1="93.4" x2="130.7" y2="93.4" stroke="#0808a4" stroke-width="2.0"/>
<text x="146.15" y="98.8" font-size="24.4" font-style="italic" text-anchor="start">c</text>
<text x="156.09" y="102.6" font-size="17.2" font-style="italic" text-anchor="start">s</text>
<text x="162.95" y="90.6" font-size="17.0" text-anchor="start">2</text>
<path d="M192.0 88.4 h-7 a5.6 5.6 0 0 0 0 11.2 h7 M179.5 94.0 h12.4" fill="none" stroke="#000" stroke-width="1.25"/>
<text x="200.07" y="98.8" font-size="23.5" text-anchor="start">(0.262,</text>
<text x="271.50" y="98.8" font-size="23.5" text-anchor="start">0.542)</text>
<line x1="106.3" y1="510.0" x2="130.7" y2="510.0" stroke="#0808a4" stroke-width="2.0"/>
<text x="146.15" y="515.4" font-size="24.4" font-style="italic" text-anchor="start">c</text>
<text x="156.09" y="519.2" font-size="17.2" font-style="italic" text-anchor="start">s</text>
<text x="162.95" y="507.2" font-size="17.0" text-anchor="start">2</text>
<path d="M192.0 505.0 h-7 a5.6 5.6 0 0 0 0 11.2 h7 M179.5 510.6 h12.4" fill="none" stroke="#000" stroke-width="1.25"/>
<text x="200.07" y="515.4" font-size="23.5" text-anchor="start">(0.229,</text>
<text x="271.50" y="515.4" font-size="23.5" text-anchor="start">0.345)</text>
<text x="110.43" y="322.4" font-size="24.4" font-style="italic" text-anchor="start">p</text>
<text x="123.22" y="325.2" font-size="18.0" font-style="italic" text-anchor="start">T</text>
<text x="134.59" y="321.2" font-size="24.4" text-anchor="start">≤</text>
<text x="149.06" y="322.4" font-size="24.4" text-anchor="start">10</text>
<text x="180.60" y="322.4" font-size="24.4" text-anchor="start">GeV,</text>
<text x="239.17" y="322.4" font-size="24.4" text-anchor="start">|</text>
<text x="243.73" y="322.4" font-size="24.4" font-style="italic" text-anchor="start">η</text>
<text x="257.17" y="322.4" font-size="24.4" text-anchor="start">|</text>
<text x="261.59" y="321.2" font-size="24.4" text-anchor="start">≤</text>
<text x="276.97" y="322.4" font-size="24.4" text-anchor="start">0.5</text>
<text x="393.83" y="737.3" font-size="24.4" font-style="italic" text-anchor="start">p</text>
<text x="406.62" y="740.1" font-size="18.0" font-style="italic" text-anchor="start">T</text>
<text x="417.99" y="736.1" font-size="24.4" text-anchor="start">≤</text>
<text x="432.46" y="737.3" font-size="24.4" text-anchor="start">10</text>
<text x="464.00" y="737.3" font-size="24.4" text-anchor="start">GeV,</text>
<text x="522.57" y="737.3" font-size="24.4" text-anchor="start">|</text>
<text x="527.13" y="737.3" font-size="24.4" font-style="italic" text-anchor="start">η</text>
<text x="540.57" y="737.3" font-size="24.4" text-anchor="start">|</text>
<text x="544.99" y="736.1" font-size="24.4" text-anchor="start">≤</text>
<text x="560.37" y="737.3" font-size="24.4" text-anchor="start">0.5</text>
<text x="488.99" y="321.6" font-size="24.6" font-style="italic" text-anchor="start">Trajectum</text>
<text x="493.59" y="678.5" font-size="24.6" font-style="italic" text-anchor="start">Trajectum</text>
<text x="238.20" y="406.7" font-size="26.5" font-style="italic" text-anchor="start">d</text>
<text x="252.69" y="406.7" font-size="26.5" font-style="italic" text-anchor="start">N</text>
<line x1="272.0" y1="413.1" x2="279.3" y2="389.3" stroke="#000" stroke-width="1.5"/>
<text x="280.40" y="406.7" font-size="26.5" font-style="italic" text-anchor="start">d</text>
<text x="293.56" y="406.7" font-size="26.5" font-style="italic" text-anchor="start">η</text>
<line x1="315.8" y1="413.1" x2="323.8" y2="389.3" stroke="#000" stroke-width="1.5"/>
<text x="330.20" y="406.7" font-size="26.5" font-style="italic" text-anchor="start">d</text>
<text x="344.49" y="406.7" font-size="26.5" font-style="italic" text-anchor="start">N</text>
<line x1="368.6" y1="413.1" x2="376.6" y2="389.3" stroke="#000" stroke-width="1.5"/>
<text x="379.40" y="406.7" font-size="26.5" font-style="italic" text-anchor="start">d</text>
<text x="397.56" y="406.7" font-size="26.5" font-style="italic" text-anchor="start">η</text>
<text x="411.06" y="413.8" font-size="19.5" text-anchor="start">0</text>
<text x="421.83" y="415.0" font-size="19.5" text-anchor="start">−</text>
<text x="432.87" y="413.8" font-size="19.5" text-anchor="start">5</text>
<text transform="translate(447.12,413.8) scale(0.87,1)" font-size="19.5">%</text>
<text x="238.20" y="822.7" font-size="26.5" font-style="italic" text-anchor="start">d</text>
<text x="252.69" y="822.7" font-size="26.5" font-style="italic" text-anchor="start">N</text>
<line x1="272.0" y1="829.1" x2="279.3" y2="805.3" stroke="#000" stroke-width="1.5"/>
<text x="280.40" y="822.7" font-size="26.5" font-style="italic" text-anchor="start">d</text>
<text x="293.56" y="822.7" font-size="26.5" font-style="italic" text-anchor="start">η</text>
<line x1="315.8" y1="829.1" x2="323.8" y2="805.3" stroke="#000" stroke-width="1.5"/>
<text x="330.20" y="822.7" font-size="26.5" font-style="italic" text-anchor="start">d</text>
<text x="344.49" y="822.7" font-size="26.5" font-style="italic" text-anchor="start">N</text>
<line x1="368.6" y1="829.1" x2="376.6" y2="805.3" stroke="#000" stroke-width="1.5"/>
<text x="379.40" y="822.7" font-size="26.5" font-style="italic" text-anchor="start">d</text>
<text x="397.56" y="822.7" font-size="26.5" font-style="italic" text-anchor="start">η</text>
<text x="411.06" y="829.8" font-size="19.5" text-anchor="start">0</text>
<text x="421.83" y="831.0" font-size="19.5" text-anchor="start">−</text>
<text x="432.87" y="829.8" font-size="19.5" text-anchor="start">5</text>
<text transform="translate(447.12,829.8) scale(0.87,1)" font-size="19.5">%</text>
<g transform="translate(32.0,263.7) rotate(-90)">
<polyline points="5.8,-18.8 0.2,-7.4 5.8,4.1" fill="none" stroke="#000" stroke-width="1.4"/>
<text x="8.45" y="0.0" font-size="26.5" font-style="italic" text-anchor="start">p</text>
<text x="23.18" y="3.2" font-size="18.6" font-style="italic" text-anchor="start">T</text>
<polyline points="37.6,-18.8 43.2,-7.4 37.6,4.1" fill="none" stroke="#000" stroke-width="1.4"/>
<line x1="52.2" y1="4.0" x2="59.2" y2="-18.6" stroke="#000" stroke-width="1.5"/>
<polyline points="75.1,-18.8 69.5,-7.4 75.1,4.1" fill="none" stroke="#000" stroke-width="1.4"/>
<text x="77.65" y="0.0" font-size="26.5" font-style="italic" text-anchor="start">p</text>
<text x="92.98" y="3.2" font-size="18.6" font-style="italic" text-anchor="start">T</text>
<polyline points="106.9,-18.8 112.5,-7.4 106.9,4.1" fill="none" stroke="#000" stroke-width="1.4"/>
<text x="114.26" y="4.3" font-size="19.5" text-anchor="start">0</text>
<text x="124.83" y="5.7" font-size="19.5" text-anchor="start">−</text>
<text x="135.87" y="4.3" font-size="19.5" text-anchor="start">5</text>
<text transform="translate(150.12,4.3) scale(0.87,1)" font-size="19.5">%</text>
</g>
<g transform="translate(32.0,679.7) rotate(-90)">
<polyline points="5.8,-18.8 0.2,-7.4 5.8,4.1" fill="none" stroke="#000" stroke-width="1.4"/>
<text x="8.45" y="0.0" font-size="26.5" font-style="italic" text-anchor="start">p</text>
<text x="23.18" y="3.2" font-size="18.6" font-style="italic" text-anchor="start">T</text>
<polyline points="37.6,-18.8 43.2,-7.4 37.6,4.1" fill="none" stroke="#000" stroke-width="1.4"/>
<line x1="52.2" y1="4.0" x2="59.2" y2="-18.6" stroke="#000" stroke-width="1.5"/>
<polyline points="75.1,-18.8 69.5,-7.4 75.1,4.1" fill="none" stroke="#000" stroke-width="1.4"/>
<text x="77.65" y="0.0" font-size="26.5" font-style="italic" text-anchor="start">p</text>
<text x="92.98" y="3.2" font-size="18.6" font-style="italic" text-anchor="start">T</text>
<polyline points="106.9,-18.8 112.5,-7.4 106.9,4.1" fill="none" stroke="#000" stroke-width="1.4"/>
<text x="114.26" y="4.3" font-size="19.5" text-anchor="start">0</text>
<text x="124.83" y="5.7" font-size="19.5" text-anchor="start">−</text>
<text x="135.87" y="4.3" font-size="19.5" text-anchor="start">5</text>
<text transform="translate(150.12,4.3) scale(0.87,1)" font-size="19.5">%</text>
</g>
</svg></body></html>
